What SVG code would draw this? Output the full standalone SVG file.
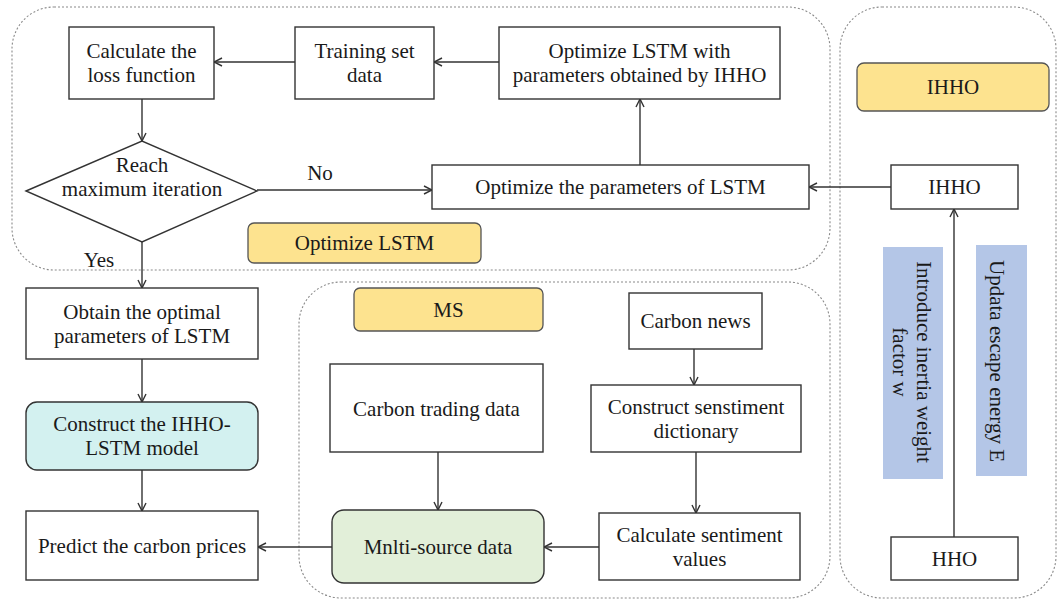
<svg xmlns="http://www.w3.org/2000/svg" width="1059" height="601" viewBox="0 0 1059 601">
<style>
text{font-family:"Liberation Serif","Times New Roman",serif;font-size:21px;fill:#1a1a1a;text-anchor:middle}
.box{fill:#fff;stroke:#333;stroke-width:1.4}
.grp{fill:none;stroke:#8a8a8a;stroke-width:1.1;stroke-dasharray:2 2}
.tag{fill:#fde38f;stroke:#555;stroke-width:1.3}
.blue{fill:#b4c6e7;stroke:none}
.edge{fill:none;stroke:#333;stroke-width:1.4}
</style>
<defs>
<marker id="arr" viewBox="0 0 10 10" refX="9.5" refY="5" markerWidth="10" markerHeight="10" markerUnits="userSpaceOnUse" orient="auto">
<path d="M1.5,1 L9.5,5 L1.5,9" fill="none" stroke="#333" stroke-width="1.4"/>
</marker>
</defs>
<rect width="1059" height="601" fill="#fff"/>
<g id="containers">
<rect class="grp" x="12" y="7" width="818" height="263" rx="42"/>
<rect class="grp" x="299" y="282" width="531" height="316" rx="42"/>
<rect class="grp" x="840" y="7" width="216" height="591" rx="42"/>
</g>
<g id="connectors">
<line class="edge" x1="295" y1="62" x2="214" y2="62" marker-end="url(#arr)"/>
<line class="edge" x1="499" y1="62" x2="434" y2="62" marker-end="url(#arr)"/>
<line class="edge" x1="142" y1="99" x2="142" y2="141" marker-end="url(#arr)"/>
<line class="edge" x1="257" y1="190" x2="432" y2="190" marker-end="url(#arr)"/>
<line class="edge" x1="640" y1="165" x2="640" y2="99" marker-end="url(#arr)"/>
<line class="edge" x1="891" y1="187" x2="809" y2="187" marker-end="url(#arr)"/>
<line class="edge" x1="954" y1="537" x2="954" y2="209" marker-end="url(#arr)"/>
<line class="edge" x1="142" y1="242" x2="142" y2="288" marker-end="url(#arr)"/>
<line class="edge" x1="142" y1="359" x2="142" y2="402" marker-end="url(#arr)"/>
<line class="edge" x1="142" y1="470" x2="142" y2="511" marker-end="url(#arr)"/>
<line class="edge" x1="332" y1="547" x2="258" y2="547" marker-end="url(#arr)"/>
<line class="edge" x1="438" y1="452" x2="438" y2="510" marker-end="url(#arr)"/>
<line class="edge" x1="694" y1="349" x2="694" y2="385" marker-end="url(#arr)"/>
<line class="edge" x1="696" y1="452" x2="696" y2="513" marker-end="url(#arr)"/>
<line class="edge" x1="599" y1="547" x2="544" y2="547" marker-end="url(#arr)"/>
<text x="320" y="180">No</text>
<text x="99" y="267">Yes</text>
</g>
<g id="calc-loss"><rect class="box" x="69" y="27" width="145" height="72"/><text x="141.5" y="58">Calculate the</text><text x="141.5" y="82">loss function</text></g>
<g id="training"><rect class="box" x="295" y="27" width="139" height="72"/><text x="364.5" y="58">Training set</text><text x="364.5" y="82">data</text></g>
<g id="opt-lstm-ihho"><rect class="box" x="499" y="27" width="281" height="72"/><text x="639.5" y="58">Optimize LSTM with</text><text x="639.5" y="82">parameters obtained by IHHO</text></g>
<g id="decision"><polygon points="26,191 142,141 257,191 142,242" fill="#fff" stroke="#333" stroke-width="1.4"/><text x="142" y="172">Reach</text><text x="142" y="196">maximum iteration</text></g>
<g id="opt-params"><rect class="box" x="432" y="165" width="377" height="44"/><text x="620.5" y="194">Optimize the parameters of LSTM</text></g>
<g id="label-opt-lstm"><rect class="tag" x="248" y="223" width="233" height="40" rx="6"/><text x="364.5" y="250">Optimize LSTM</text></g>
<g id="label-ihho"><rect class="tag" x="857" y="63" width="192" height="48" rx="7"/><text x="953" y="94">IHHO</text></g>
<g id="ihho"><rect class="box" x="891" y="165" width="127" height="44"/><text x="954.5" y="194">IHHO</text></g>
<g id="inertia"><rect class="blue" x="883" y="247" width="60" height="232"/><text transform="translate(917,362) rotate(90)"><tspan x="0" y="0">Introduce inertia weight</tspan><tspan x="0" y="24">factor w</tspan></text></g>
<g id="escape"><rect class="blue" x="976" y="245" width="51" height="231"/><text transform="translate(990,361) rotate(90)">Updata escape energy E</text></g>
<g id="hho"><rect class="box" x="891" y="537" width="127" height="43"/><text x="954.5" y="565.5">HHO</text></g>
<g id="obtain"><rect class="box" x="26" y="288" width="232" height="71"/><text x="142" y="318.5">Obtain the optimal</text><text x="142" y="342.5">parameters of LSTM</text></g>
<g id="construct-model"><rect x="26" y="402" width="232" height="68" rx="11" fill="#d3f1f0" stroke="#333" stroke-width="1.4"/><text x="142" y="431">Construct the IHHO-</text><text x="142" y="455">LSTM model</text></g>
<g id="predict"><rect class="box" x="26" y="511" width="232" height="69"/><text x="142" y="553">Predict the carbon prices</text></g>
<g id="label-ms"><rect class="tag" x="354" y="288" width="189" height="43" rx="6"/><text x="448.5" y="316.5">MS</text></g>
<g id="carbon-trading"><rect class="box" x="330" y="364" width="213" height="88"/><text x="436.5" y="415.5">Carbon trading data</text></g>
<g id="multi-source"><rect x="332" y="510" width="212" height="73" rx="12" fill="#e2efd9" stroke="#333" stroke-width="1.4"/><text x="438" y="553.5">Mnlti-source data</text></g>
<g id="carbon-news"><rect class="box" x="629" y="293" width="133" height="56"/><text x="695.5" y="328">Carbon news</text></g>
<g id="construct-dict"><rect class="box" x="591" y="385" width="210" height="67"/><text x="696" y="413.5">Construct senstiment</text><text x="696" y="437.5">dictionary</text></g>
<g id="calc-sentiment"><rect class="box" x="599" y="513" width="201" height="67"/><text x="699.5" y="541.5">Calculate sentiment</text><text x="699.5" y="565.5">values</text></g>
</svg>
